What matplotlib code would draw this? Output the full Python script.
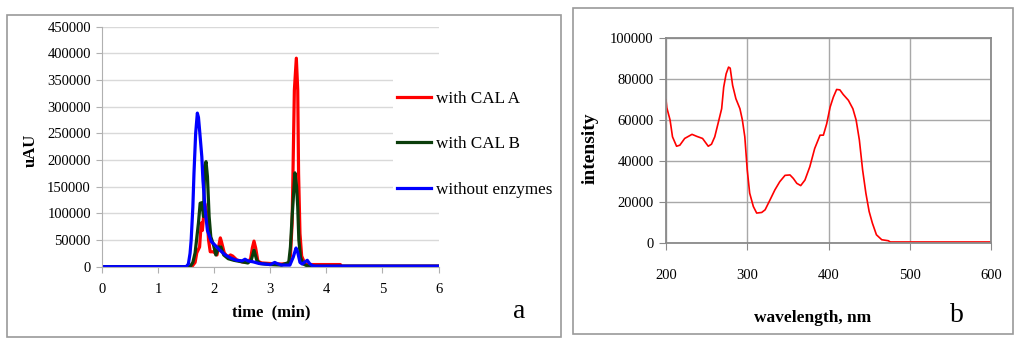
import matplotlib
matplotlib.use("Agg")
import matplotlib.pyplot as plt
from matplotlib.patches import Rectangle

plt.rcParams['font.family'] = ['Liberation Serif', 'DejaVu Serif']

# ---- panel a: chromatograms (time in min, signal in uAU)
cal_a_t = [0, 1.6, 1.66, 1.69, 1.74, 1.77, 1.79, 1.83, 1.87, 1.90, 1.93, 1.99, 2.05, 2.11, 2.13,
           2.18, 2.24, 2.29, 2.33, 2.40, 2.5, 2.6, 2.65, 2.68, 2.71, 2.74, 2.78, 2.85, 3.0, 3.2,
           3.33, 3.36, 3.39, 3.41, 3.43, 3.465, 3.49, 3.505, 3.53, 3.56, 3.62, 3.7, 4.25, 4.27, 6.0]
cal_a_v = [0, 0, 8000, 26000, 37000, 82000, 68000, 119000, 100000, 50000, 28000, 28000, 22000, 54000, 47000,
           26000, 18000, 22000, 20000, 13000, 9000, 8000, 15000, 35000, 48000, 35000, 10000, 7000, 6000, 5000,
           6000, 20000, 82000, 206000, 331000, 391000, 331000, 175000, 62000, 20000, 5000, 4000, 4000, 1000, 1000]

cal_b_t = [0, 1.57, 1.62, 1.66, 1.72, 1.75, 1.78, 1.81, 1.83, 1.855, 1.88, 1.91, 1.94, 1.99, 2.03,
           2.08, 2.12, 2.17, 2.25, 2.35, 2.5, 2.6, 2.66, 2.71, 2.76, 2.82, 3.0, 3.2, 3.33, 3.36,
           3.39, 3.44, 3.47, 3.49, 3.51, 3.54, 3.59, 3.65, 3.7, 6.0]
cal_b_v = [0, 0, 8000, 26000, 82000, 119000, 120000, 94000, 187000, 197000, 169000, 94000, 56000, 40000, 22000,
           37000, 37000, 22000, 15000, 12000, 9000, 7000, 12000, 31000, 12000, 6000, 4000, 3000, 8000, 37000,
           94000, 176000, 150000, 112000, 50000, 17000, 5000, 2000, 1000, 1000]

no_enz_t = [0, 1.5, 1.54, 1.57, 1.59, 1.62, 1.64, 1.67, 1.70, 1.72, 1.74, 1.78, 1.80, 1.84, 1.88,
            1.95, 2.0, 2.1, 2.2, 2.3, 2.4, 2.5, 2.55, 2.6, 2.7, 2.8, 2.9, 3.0, 3.08, 3.12,
            3.2, 3.35, 3.41, 3.46, 3.49, 3.53, 3.57, 3.62, 3.66, 3.7, 3.75, 3.8, 6.0]
no_enz_v = [0, 0, 5000, 25000, 50000, 112000, 175000, 250000, 288000, 280000, 256000, 206000, 162000, 106000, 68000,
            47000, 42000, 31000, 22000, 16000, 12000, 11000, 14000, 11000, 9000, 6000, 5000, 4000, 8000, 6000,
            3000, 3000, 18000, 35000, 27000, 8000, 5000, 9000, 12000, 6000, 2000, 1000, 1000]

series_labels = ['with CAL A', 'with CAL B', 'without enzymes']
series_colors = ['#ff0000', '#0b3d0b', '#0000ff']

time_ticks = [0, 1, 2, 3, 4, 5, 6]
uau_ticks = list(range(0, 450001, 50000))

# ---- panel b: spectrum
wavelength = [200, 201, 205, 208, 213, 217, 223, 232, 238, 245, 252, 256, 260, 264, 268.5,
              271, 274, 277, 279, 282, 286, 291, 294, 297, 300, 303, 307.5, 311.6, 317.8, 322,
              328, 334, 340, 346.5, 352.6, 356.7, 361, 365.8, 371, 377, 383, 389.6, 393.7, 397.8, 402,
              406, 410, 414, 418, 424.5, 430, 434, 438, 442, 446, 450, 454, 459, 465.5, 473.7,
              476, 600]
intensity = [69900, 66000, 60000, 51800, 47200, 47700, 51000, 53000, 52000, 51000, 47200, 48200, 51800, 58200, 65500,
             76000, 82500, 85800, 85300, 76900, 70400, 65500, 60000, 51800, 35600, 24300, 17800, 14600, 14900, 16200,
             21000, 25900, 29900, 33000, 33200, 31500, 29100, 28000, 30700, 37200, 46100, 52600, 52600, 58200, 66300,
             71200, 74900, 74700, 72500, 69600, 65500, 60000, 50200, 35600, 24300, 15400, 9700, 4000, 1600, 1100,
             500, 500]
wl_ticks = [200, 300, 400, 500, 600]
int_ticks = [0, 20000, 40000, 60000, 80000, 100000]


def px(x, y):
    # pixel position in the 1024x349 image -> figure fraction
    return x / 1024, 1 - y / 349


fig = plt.figure(figsize=(10.24, 3.49), dpi=100)

# panel frames
for (x0, y0, x1, y1) in [(7, 15, 561, 337), (573, 8, 1013, 334)]:
    fx0, fy1 = px(x0, y0)
    fx1, fy0 = px(x1, y1)
    fig.patches.append(Rectangle((fx0, fy0), fx1 - fx0, fy1 - fy0, transform=fig.transFigure,
                                 fill=False, edgecolor='#9a9a9a', lw=1.2, zorder=0))

# ---- panel a
ax1 = fig.add_axes([102 / 1024, (349 - 266.7) / 349, 336.5 / 1024, 240 / 349])
for t, v, lab, col in zip([cal_a_t, cal_b_t, no_enz_t], [cal_a_v, cal_b_v, no_enz_v],
                          series_labels, series_colors):
    ax1.plot(t, v, color=col, lw=2.3, label=lab, solid_joinstyle='round')
ax1.set_xlim(0, 6)
ax1.set_ylim(0, 450000)
ax1.set_xticks(time_ticks)
ax1.set_yticks(uau_ticks)
ax1.grid(axis='y', color='#d9d9d9', lw=1)
ax1.set_axisbelow(True)
for s in ['top', 'right']:
    ax1.spines[s].set_visible(False)
for s in ['left', 'bottom']:
    ax1.spines[s].set_color('#b0b0b0')
ax1.tick_params(axis='both', colors='#b0b0b0', labelcolor='black', labelsize=10.5, length=4, direction='out')
ax1.tick_params(axis='x', pad=8)
ax1.tick_params(axis='y', pad=4)
ax1.set_xlabel('time  (min)', fontsize=12, fontweight='bold', va='center')
ax1.xaxis.set_label_coords(0.502, (266.7 - 312) / 240)
ax1.set_ylabel('uAU', fontsize=12, fontweight='bold', va='center')
ax1.yaxis.set_label_coords((31 - 102) / 336.5, (266.7 - 150) / 240)

# white area behind legend, cutting the gridlines
lx0, ly1 = px(393, 62)
lx1, ly0 = px(440, 205)
fig.patches.append(Rectangle((lx0, ly0), lx1 - lx0, ly1 - ly0, transform=fig.transFigure,
                             facecolor='white', edgecolor='none', zorder=1))
handles, labels = ax1.get_legend_handles_labels()
fig.legend(handles, labels, loc='upper left', bbox_to_anchor=px(397, 91), frameon=False,
           fontsize=12.3, handlelength=2.0, handletextpad=0.3, labelspacing=1.72,
           borderpad=0, borderaxespad=0)
fig.text(*px(519, 312), 'a', fontsize=20, ha='center', va='center')

# ---- panel b
ax2 = fig.add_axes([666 / 1024, (349 - 243) / 349, 325 / 1024, 205 / 349])
ax2.plot(wavelength, intensity, color='#ff0000', lw=1.2)
ax2.set_xlim(200, 600)
ax2.set_ylim(0, 100000)
ax2.set_xticks(wl_ticks)
ax2.set_yticks(int_ticks)
ax2.grid(True, color='#a8a8a8', lw=1)
ax2.set_axisbelow(True)
for s in ax2.spines.values():
    s.set_color('#8a8a8a')
    s.set_linewidth(1.3)
ax2.tick_params(axis='both', colors='#8a8a8a', labelcolor='black', labelsize=10.5, length=5, direction='out')
ax2.tick_params(axis='x', pad=14)
ax2.tick_params(axis='y', pad=4)
ax2.set_xlabel('wavelength, nm', fontsize=12.5, fontweight='bold', va='center')
ax2.xaxis.set_label_coords((813 - 666) / 325, (243 - 318) / 205)
ax2.set_ylabel('intensity', fontsize=14, fontweight='bold', va='center')
ax2.yaxis.set_label_coords((590 - 666) / 325, (243 - 148) / 205)
fig.text(*px(957, 315), 'b', fontsize=20, ha='center', va='center')

fig.savefig('out.png', dpi=100)
